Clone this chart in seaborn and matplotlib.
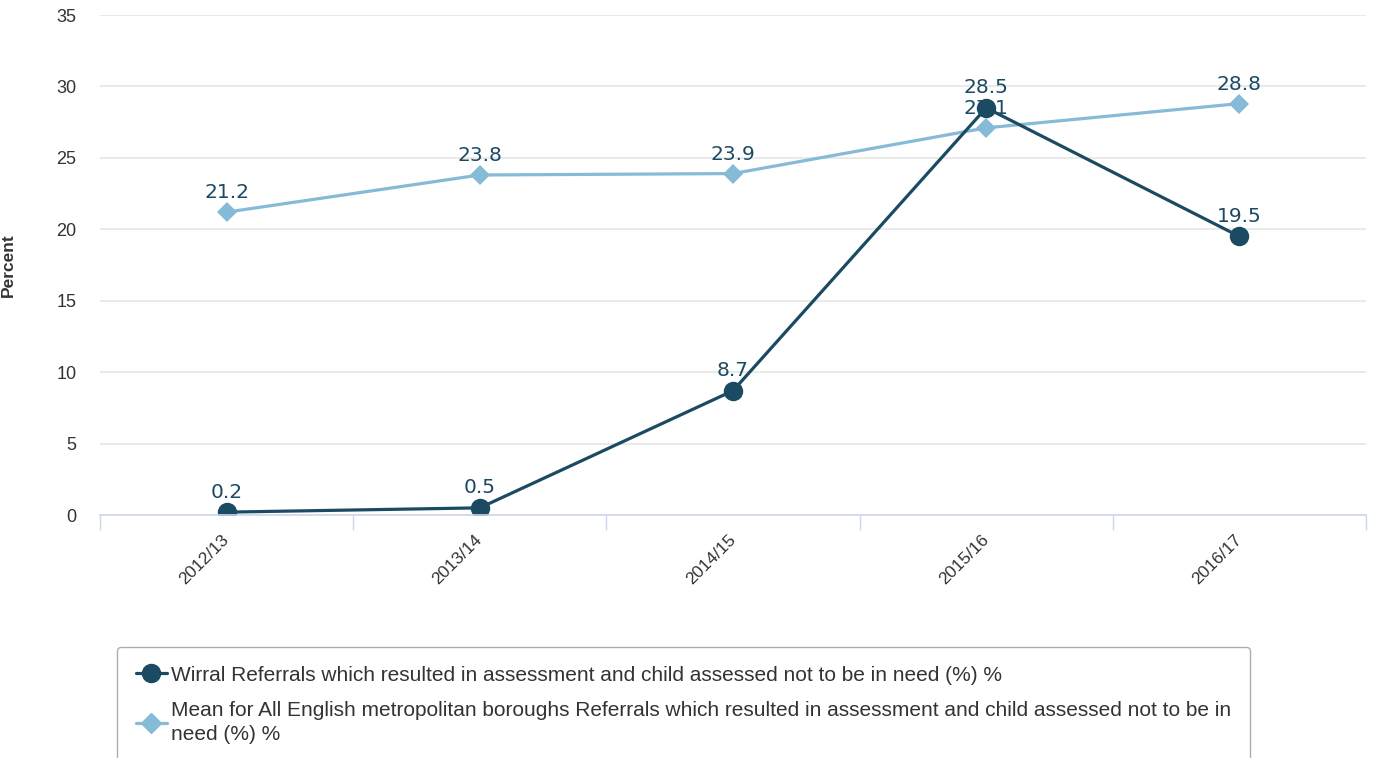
import numpy as np
import pandas as pd
import matplotlib
matplotlib.use('Agg')
import matplotlib.pyplot as plt
import seaborn as sns
from matplotlib.lines import Line2D

#data
years = ['2012/13', '2013/14', '2014/15', '2015/16', '2016/17']
wirral = [0.2, 0.5, 8.7, 28.5, 19.5]
england_mean = [21.2, 23.8, 23.9, 27.1, 28.8]

wirral_label = 'Wirral Referrals which resulted in assessment and child assessed not to be in need (%) %'
mean_label = ('Mean for All English metropolitan boroughs Referrals which resulted in assessment and child assessed not to be in\n'
              'need (%) %')

dark = '#1b4a63'
light = '#86bbd8'

sns.set_theme(style='white')
plt.rcParams['font.family'] = ['DejaVu Sans']

df = pd.DataFrame({'pos': np.arange(len(years)), 'wirral': wirral, 'mean': england_mean})

fig = plt.figure(figsize=(13.73, 7.58), dpi=100)
ax = fig.add_axes([100/1373, 1 - 515/758, 1266/1373, 500/758])

sns.lineplot(data=df, x='pos', y='mean', ax=ax, color=light, linewidth=2.3,
             marker='D', markersize=10.5, markeredgewidth=0)
sns.lineplot(data=df, x='pos', y='wirral', ax=ax, color=dark, linewidth=2.3,
             marker='o', markersize=14, markeredgewidth=0)

#value labels
for xi, v in zip(df['pos'], df['mean']):
    ax.annotate(f'{v}', (xi, v), xytext=(0, 7), textcoords='offset points',
                ha='center', va='bottom', fontsize=14.5, color=dark)
for xi, v in zip(df['pos'], df['wirral']):
    ax.annotate(f'{v}', (xi, v), xytext=(0, 7.5), textcoords='offset points',
                ha='center', va='bottom', fontsize=14.5, color=dark)

ax.set_xlim(-0.5, len(years) - 0.5)
ax.set_ylim(0, 35)
ax.set_yticks(np.arange(0, 36, 5))
ax.yaxis.grid(True, color='#e6e6e6', linewidth=1.2)
ax.set_xticks(df['pos'])
ax.set_xticklabels(years, rotation=45, ha='right', va='center', rotation_mode='anchor',
                   fontsize=12.5, color='#333333', family='Liberation Sans')
ax.set_xticks(np.arange(-0.5, len(years), 1), minor=True)
ax.tick_params(axis='x', which='major', length=0, pad=16)
ax.tick_params(axis='x', which='minor', length=11, color='#ccd6eb', width=1, bottom=True)
ax.tick_params(axis='y', length=0, labelsize=13, labelcolor='#333333', pad=17)
for lbl in ax.get_yticklabels():
    lbl.set_family('Liberation Sans')

for s in ['top', 'right', 'left']:
    ax.spines[s].set_visible(False)
ax.spines['bottom'].set_color('#ccd6eb')
ax.spines['bottom'].set_linewidth(1.2)
ax.set_xlabel('')
ax.set_ylabel('Percent', fontsize=12.5, fontweight='bold', color='#333333',
              family='Liberation Sans')
ax.yaxis.set_label_coords(-84/1266, 0.5)

handles = [Line2D([0], [0], color=dark, linewidth=2.3, marker='o', markersize=13),
           Line2D([0], [0], color=light, linewidth=2.3, marker='D', markersize=10)]
leg = fig.legend(handles, [wirral_label, mean_label], loc='upper left',
                 bbox_to_anchor=(117/1373, 1 - 647/758), frameon=True,
                 prop={'family': 'Liberation Sans', 'size': 15},
                 handlelength=1.5, handletextpad=0.2, labelspacing=0.8,
                 borderpad=0.9, borderaxespad=0, fancybox=True, labelcolor='#333333')
leg.get_frame().set_edgecolor('#999999')
leg.get_frame().set_linewidth(1)
leg.get_texts()[1].set_linespacing(1.3)

fig.savefig('out.png', dpi=100)
